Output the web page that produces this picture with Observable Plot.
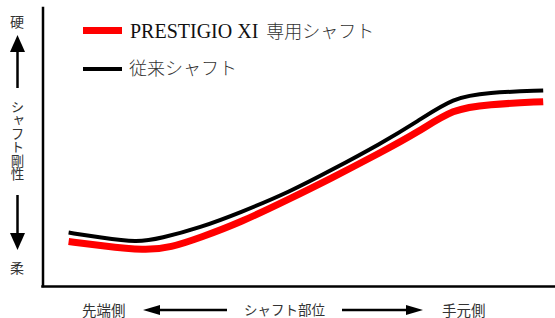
<!DOCTYPE html>
<html><head><meta charset="utf-8">
<script src="https://cdn.jsdelivr.net/npm/d3@7"></script>
<script src="https://cdn.jsdelivr.net/npm/@observablehq/plot@0.6"></script>
<style>
body{margin:0;background:#fff;}
#wrap{position:relative;width:555px;height:318px;overflow:hidden;background:#fff;}
#wrap svg.plot{position:absolute;left:0;top:0;}
.t{position:absolute;white-space:nowrap;line-height:1;color:#333;font-family:"Noto Sans CJK JP",sans-serif;}
.lat{font-family:"Liberation Serif","Times New Roman",serif;color:#111;}
</style></head><body>
<div id="wrap"></div>
<script>
// Shaft position (0 = tip side, 100 = butt side) and relative stiffness
const conventionalX = [5.0, 11.2, 18.4, 22.9, 30.7, 38.5, 48.3, 56.1, 65.9, 73.1, 80.1, 86.7, 97.6];
const conventionalY = [19.4, 17.6, 15.8, 17.3, 21.2, 26.6, 34.2, 41.7, 51.4, 59.4, 68.0, 69.8, 70.5];
const prestigioX = [5.0, 11.2, 20.0, 24.9, 30.7, 38.5, 48.3, 56.1, 65.9, 73.1, 80.1, 86.7, 97.6];
const prestigioY = [16.2, 14.7, 12.9, 14.0, 17.6, 23.0, 31.7, 38.8, 48.2, 55.4, 64.0, 65.5, 66.5];
const seriesNames = ["PRESTIGIO XI", "専用シャフト", "従来シャフト"];
const yLabels = ["硬", "シャフト剛性", "柔"];
const xLabels = ["先端側", "シャフト部位", "手元側"];

const conventional = conventionalX.map((x, i) => ({x, y: conventionalY[i]}));
const prestigio = prestigioX.map((x, i) => ({x, y: prestigioY[i]}));

const chart = Plot.plot({
  width: 555, height: 318,
  marginLeft: 42.5, marginRight: 0, marginTop: 8, marginBottom: 32,
  x: {domain: [0, 100], axis: null},
  y: {domain: [0, 100], axis: null},
  marks: [
    Plot.ruleX([0], {stroke: "#000", strokeWidth: 2.5, strokeLinecap: "square"}),
    Plot.ruleY([0], {stroke: "#000", strokeWidth: 2.5, strokeLinecap: "square"}),
    Plot.line(conventional, {x: "x", y: "y", stroke: "#000", strokeWidth: 4, curve: "basis", strokeLinecap: "butt"}),
    Plot.line(prestigio, {x: "x", y: "y", stroke: "#ff0000", strokeWidth: 7, curve: "basis", strokeLinecap: "butt"})
  ]
});
chart.classList.add("plot");
const wrap = document.getElementById("wrap");
wrap.appendChild(chart);

function addText(txt, css, cls) {
  const d = document.createElement("div");
  d.className = "t " + (cls || "");
  d.textContent = txt;
  Object.assign(d.style, css);
  wrap.appendChild(d);
  return d;
}

// Legend swatches and annotation arrows
const legend = document.createElement("div");
legend.innerHTML = `
<svg width="555" height="318" style="position:absolute;left:0;top:0;overflow:visible">
  <line x1="83" x2="122" y1="30.5" y2="30.5" stroke="#ff0000" stroke-width="7"/>
  <line x1="83" x2="122" y1="69" y2="69" stroke="#000" stroke-width="4"/>
  <line x1="17.5" x2="17.5" y1="50" y2="88" stroke="#000" stroke-width="2.5"/>
  <polygon points="17.5,35 10,52 25,52" fill="#000"/>
  <line x1="17.5" x2="17.5" y1="195" y2="235" stroke="#000" stroke-width="2.5"/>
  <polygon points="17.5,250 10,233 25,233" fill="#000"/>
  <line x1="158" x2="227" y1="310" y2="310" stroke="#000" stroke-width="2.5"/>
  <polygon points="143,310 160,305 160,315" fill="#000"/>
  <line x1="342" x2="410" y1="310" y2="310" stroke="#000" stroke-width="2.5"/>
  <polygon points="423,310 406,305 406,315" fill="#000"/>
</svg>`;
wrap.appendChild(legend);

const l1 = document.createElement("div");
l1.className = "t";
l1.style.left = "130px"; l1.style.top = "21px";
l1.innerHTML = `<span class="lat" style="font-size:20px">${seriesNames[0]}</span><span style="font-size:18px;font-weight:300;margin-left:8px">${seriesNames[1]}</span>`;
wrap.appendChild(l1);
addText(seriesNames[2], {left: "129px", top: "58px", fontSize: "18px", fontWeight: 300});

// Y annotation
addText(yLabels[0], {left: "10px", top: "14px", fontSize: "14px"});
addText(yLabels[1], {left: "10px", top: "100px", fontSize: "13.5px", writingMode: "vertical-rl"});
addText(yLabels[2], {left: "10px", top: "260px", fontSize: "14px"});

// X annotation
addText(xLabels[0], {left: "82px", top: "303px", fontSize: "14.5px"});
addText(xLabels[1], {left: "244px", top: "303px", fontSize: "13.5px"});
addText(xLabels[2], {left: "442px", top: "303px", fontSize: "14.5px"});
</script>
</body></html>
